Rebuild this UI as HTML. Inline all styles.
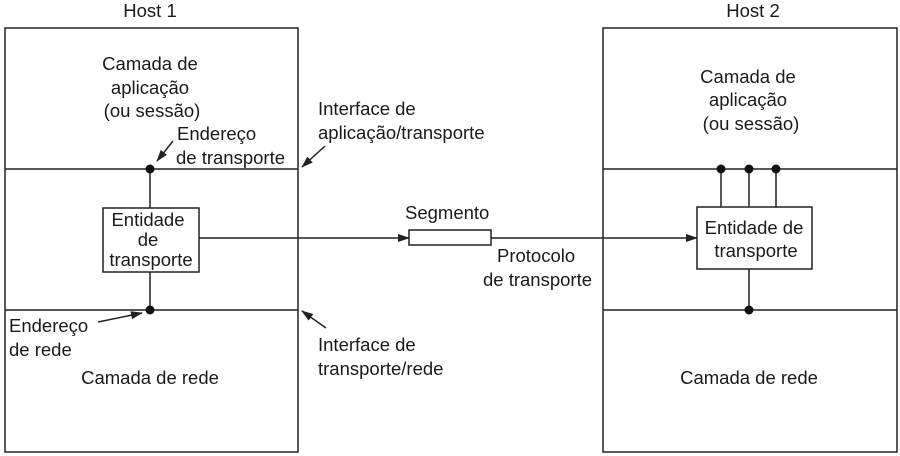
<!DOCTYPE html>
<html><head><meta charset="utf-8"><style>
body{margin:0;background:#fff}
svg{display:block}
text{font-family:"Liberation Sans",sans-serif;font-size:18.5px;fill:#1a1a1a}
</style></head><body>
<svg width="900" height="456" viewBox="0 0 900 456">
<defs><marker id="a" markerWidth="12" markerHeight="8" refX="11" refY="4" orient="auto" markerUnits="userSpaceOnUse"><path d="M0,0 L12,4 L0,8 Z" fill="#222"/></marker></defs>
<g stroke="#222" stroke-width="1.5" fill="none">
<rect x="5" y="28" width="293" height="424"/>
<line x1="5" y1="169" x2="298" y2="169"/>
<line x1="5" y1="310" x2="298" y2="310"/>
<rect x="103" y="208" width="96" height="64" fill="#fff"/>
<line x1="150" y1="169" x2="150" y2="208"/>
<line x1="150" y1="272" x2="150" y2="310"/>
<line x1="199" y1="238" x2="409" y2="238" marker-end="url(#a)"/>
<rect x="409" y="230" width="82" height="15"/>
<line x1="491" y1="238" x2="697" y2="238" marker-end="url(#a)"/>
<rect x="603" y="28" width="294" height="424"/>
<line x1="603" y1="169" x2="897" y2="169"/>
<line x1="603" y1="310" x2="897" y2="310"/>
<rect x="697" y="207" width="115" height="62" fill="#fff"/>
<line x1="721" y1="169" x2="721" y2="207"/>
<line x1="749" y1="169" x2="749" y2="207"/>
<line x1="776" y1="169" x2="776" y2="207"/>
<line x1="749" y1="269" x2="749" y2="310"/>
<line x1="173" y1="141" x2="157" y2="161" marker-end="url(#a)"/>
<line x1="325" y1="146" x2="302" y2="167" marker-end="url(#a)"/>
<line x1="98" y1="322" x2="142" y2="313" marker-end="url(#a)"/>
<line x1="326" y1="328" x2="302" y2="311" marker-end="url(#a)"/>
</g>
<g fill="#111">
<circle cx="150" cy="169" r="4.5"/><circle cx="150" cy="310" r="4.5"/>
<circle cx="721" cy="169" r="4.5"/><circle cx="749" cy="169" r="4.5"/><circle cx="776" cy="169" r="4.5"/>
<circle cx="749" cy="310" r="4.5"/>
</g>
<g text-anchor="middle">
<text x="150" y="17">Host 1</text>
<text x="150" y="70">Camada de</text>
<text x="150" y="94">aplicação</text>
<text x="152" y="117">(ou sessão)</text>
<text x="148" y="226">Entidade</text>
<text x="148" y="246">de</text>
<text x="151" y="266">transporte</text>
<text x="150" y="384">Camada de rede</text>
<text x="753" y="17">Host 2</text>
<text x="748" y="83">Camada de</text>
<text x="748" y="106">aplicação</text>
<text x="751" y="130">(ou sessão)</text>
<text x="754" y="234">Entidade de</text>
<text x="756" y="257">transporte</text>
<text x="749" y="384">Camada de rede</text>
</g>
<text x="177" y="140">Endereço</text>
<text x="176" y="164">de transporte</text>
<text x="318" y="115">Interface de</text>
<text x="318" y="139">aplicação/transporte</text>
<text x="9" y="332">Endereço</text>
<text x="9" y="356">de rede</text>
<text x="318" y="351">Interface de</text>
<text x="318" y="375">transporte/rede</text>
<text x="405" y="219">Segmento</text>
<text x="497" y="262">Protocolo</text>
<text x="483" y="286">de transporte</text>
</svg>
</body></html>
